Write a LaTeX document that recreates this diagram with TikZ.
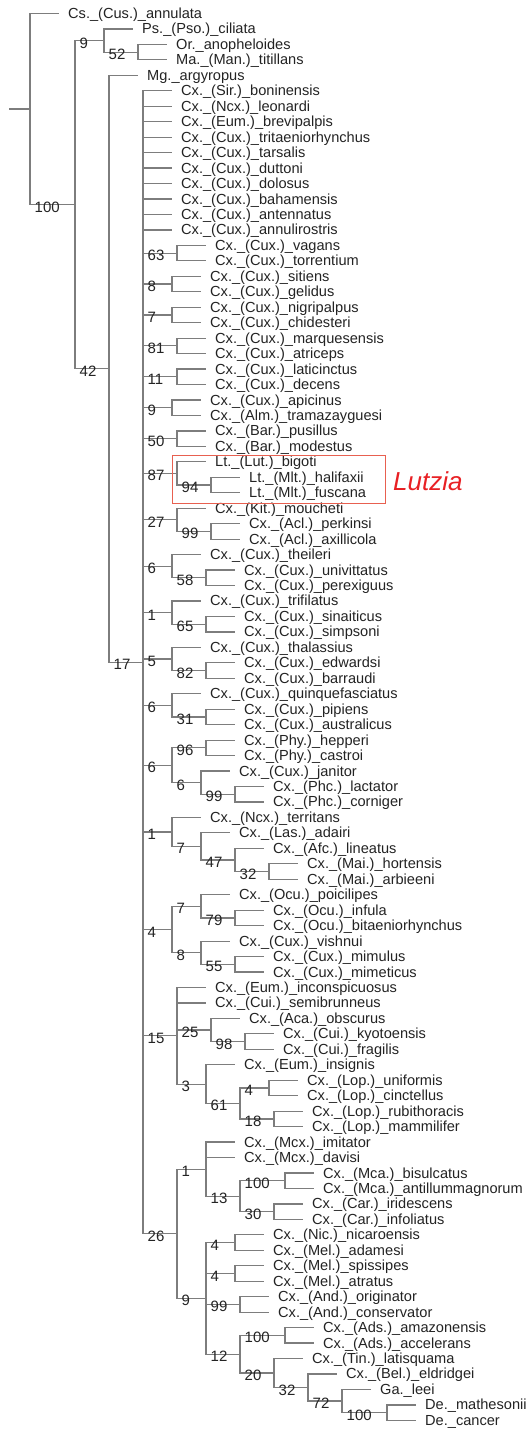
\documentclass[tikz,border=0pt]{standalone}
\usepackage{fontspec}
\setmainfont{Liberation Sans}
\definecolor{linegray}{RGB}{125,125,125}
\definecolor{textdark}{RGB}{35,35,35}
\definecolor{lutzbox}{RGB}{232,96,80}
\definecolor{lutzred}{RGB}{232,32,36}
\newcommand\Y[1]{15.46*(#1)-1.96}
\newcommand\tleaf[4]{\node[leaf] (#1) at (#2,{\Y{#3}}) {#4};}
\newcommand\tnode[3]{\coordinate (#1) at (#2,{\Y{#3}});}
\newcommand\ed[2]{\draw[edge] (#1) |- (#2);}
\newcommand\el[2]{\draw[edge] (#1) |- (#2.west);}
\newcommand\bl[3]{\node[bsl] (b#2) at (#1 |- #2) {#3};}
\begin{document}
\begin{tikzpicture}[x=1pt,y=-1pt,
  edge/.style={draw=linegray, line width=1.2pt},
  leaf/.style={anchor=west, inner xsep=9pt, inner ysep=0pt, text height=10pt, text depth=0pt, font=\fontsize{14.6}{15}\selectfont, text=textdark},
  bsl/.style={anchor=west, inner sep=0pt, text height=10pt, text depth=0pt, xshift=4.5pt, yshift=-2.5pt, font=\fontsize{15}{15}\selectfont, text=textdark}]
\useasboundingbox (0,0) rectangle (531,1434);
% ---------- internal nodes ----------
\tnode{R}{30}{7.18311}
\coordinate (r0) at (9,{\Y{7.18311}});
\tnode{n100}{75}{13.36621}
\tnode{n9}{104}{2.75}
\tnode{n52}{138}{3.5}
\tnode{n42}{109}{23.98242}
\tnode{n17}{143}{42.96484}
\tnode{n63}{177}{16.5}
\tnode{n8}{172}{18.5}
\tnode{n7}{172}{20.5}
\tnode{n81}{177}{22.5}
\tnode{n11}{177}{24.5}
\tnode{n9b}{172}{26.5}
\tnode{n50}{177}{28.5}
\tnode{n87}{177}{30.75}
\tnode{n94}{211}{31.5}
\tnode{n27}{177}{33.75}
\tnode{n99a}{211}{34.5}
\tnode{n6a}{172}{36.75}
\tnode{n58}{206}{37.5}
\tnode{n1a}{172}{39.75}
\tnode{n65}{206}{40.5}
\tnode{n5}{172}{42.75}
\tnode{n82}{206}{43.5}
\tnode{n6b}{172}{45.75}
\tnode{n31}{206}{46.5}
\tnode{n6c}{172}{49.625}
\tnode{n96}{206}{48.5}
\tnode{n6d}{201}{50.75}
\tnode{n99b}{235}{51.5}
\tnode{n1b}{172}{53.9375}
\tnode{n7b}{201}{54.875}
\tnode{n47}{235}{55.75}
\tnode{n32a}{269}{56.5}
\tnode{n4}{172}{60.25}
\tnode{n7c}{201}{58.75}
\tnode{n79}{235}{59.5}
\tnode{n8b}{201}{61.75}
\tnode{n55}{235}{62.5}
\tnode{n15}{177}{67.125}
\tnode{n25}{211}{66.75}
\tnode{n98a}{245}{67.5}
\tnode{n3}{206}{70.25}
\tnode{n61}{240}{71.5}
\tnode{n4b}{269}{70.5}
\tnode{n18}{274}{72.5}
\tnode{n26}{177}{79.9296875}
\tnode{n1c}{206}{75.75}
\tnode{n13}{240}{77.5}
\tnode{n100b}{285}{76.5}
\tnode{n30}{274}{78.5}
\tnode{n9c}{206}{84.109375}
\tnode{n4c}{235}{80.5}
\tnode{n4d}{235}{82.5}
\tnode{n99c}{240}{84.5}
\tnode{n12}{240}{87.71875}
\tnode{n100c}{285}{86.5}
\tnode{n20}{274}{88.9375}
\tnode{n32b}{308}{89.875}
\tnode{n72}{342}{90.75}
\tnode{n100d}{387}{91.5}
% ---------- leaves ----------
\tleaf{l1}{59}{1}{Cs.\_(Cus.)\_annulata}
\tleaf{l2}{133}{2}{Ps.\_(Pso.)\_ciliata}
\tleaf{l3}{167}{3}{Or.\_anopheloides}
\tleaf{l4}{167}{4}{Ma.\_(Man.)\_titillans}
\tleaf{l5}{138}{5}{Mg.\_argyropus}
\tleaf{l6}{172}{6}{Cx.\_(Sir.)\_boninensis}
\tleaf{l7}{172}{7}{Cx.\_(Ncx.)\_leonardi}
\tleaf{l8}{172}{8}{Cx.\_(Eum.)\_brevipalpis}
\tleaf{l9}{172}{9}{Cx.\_(Cux.)\_tritaeniorhynchus}
\tleaf{l10}{172}{10}{Cx.\_(Cux.)\_tarsalis}
\tleaf{l11}{172}{11}{Cx.\_(Cux.)\_duttoni}
\tleaf{l12}{172}{12}{Cx.\_(Cux.)\_dolosus}
\tleaf{l13}{172}{13}{Cx.\_(Cux.)\_bahamensis}
\tleaf{l14}{172}{14}{Cx.\_(Cux.)\_antennatus}
\tleaf{l15}{172}{15}{Cx.\_(Cux.)\_annulirostris}
\tleaf{l16}{206}{16}{Cx.\_(Cux.)\_vagans}
\tleaf{l17}{206}{17}{Cx.\_(Cux.)\_torrentium}
\tleaf{l18}{201}{18}{Cx.\_(Cux.)\_sitiens}
\tleaf{l19}{201}{19}{Cx.\_(Cux.)\_gelidus}
\tleaf{l20}{201}{20}{Cx.\_(Cux.)\_nigripalpus}
\tleaf{l21}{201}{21}{Cx.\_(Cux.)\_chidesteri}
\tleaf{l22}{206}{22}{Cx.\_(Cux.)\_marquesensis}
\tleaf{l23}{206}{23}{Cx.\_(Cux.)\_atriceps}
\tleaf{l24}{206}{24}{Cx.\_(Cux.)\_laticinctus}
\tleaf{l25}{206}{25}{Cx.\_(Cux.)\_decens}
\tleaf{l26}{201}{26}{Cx.\_(Cux.)\_apicinus}
\tleaf{l27}{201}{27}{Cx.\_(Alm.)\_tramazayguesi}
\tleaf{l28}{206}{28}{Cx.\_(Bar.)\_pusillus}
\tleaf{l29}{206}{29}{Cx.\_(Bar.)\_modestus}
\tleaf{l30}{206}{30}{Lt.\_(Lut.)\_bigoti}
\tleaf{l31}{240}{31}{Lt.\_(Mlt.)\_halifaxii}
\tleaf{l32}{240}{32}{Lt.\_(Mlt.)\_fuscana}
\tleaf{l33}{206}{33}{Cx.\_(Kit.)\_moucheti}
\tleaf{l34}{240}{34}{Cx.\_(Acl.)\_perkinsi}
\tleaf{l35}{240}{35}{Cx.\_(Acl.)\_axillicola}
\tleaf{l36}{201}{36}{Cx.\_(Cux.)\_theileri}
\tleaf{l37}{235}{37}{Cx.\_(Cux.)\_univittatus}
\tleaf{l38}{235}{38}{Cx.\_(Cux.)\_perexiguus}
\tleaf{l39}{201}{39}{Cx.\_(Cux.)\_trifilatus}
\tleaf{l40}{235}{40}{Cx.\_(Cux.)\_sinaiticus}
\tleaf{l41}{235}{41}{Cx.\_(Cux.)\_simpsoni}
\tleaf{l42}{201}{42}{Cx.\_(Cux.)\_thalassius}
\tleaf{l43}{235}{43}{Cx.\_(Cux.)\_edwardsi}
\tleaf{l44}{235}{44}{Cx.\_(Cux.)\_barraudi}
\tleaf{l45}{201}{45}{Cx.\_(Cux.)\_quinquefasciatus}
\tleaf{l46}{235}{46}{Cx.\_(Cux.)\_pipiens}
\tleaf{l47}{235}{47}{Cx.\_(Cux.)\_australicus}
\tleaf{l48}{235}{48}{Cx.\_(Phy.)\_hepperi}
\tleaf{l49}{235}{49}{Cx.\_(Phy.)\_castroi}
\tleaf{l50}{230}{50}{Cx.\_(Cux.)\_janitor}
\tleaf{l51}{264}{51}{Cx.\_(Phc.)\_lactator}
\tleaf{l52}{264}{52}{Cx.\_(Phc.)\_corniger}
\tleaf{l53}{201}{53}{Cx.\_(Ncx.)\_territans}
\tleaf{l54}{230}{54}{Cx.\_(Las.)\_adairi}
\tleaf{l55}{264}{55}{Cx.\_(Afc.)\_lineatus}
\tleaf{l56}{298}{56}{Cx.\_(Mai.)\_hortensis}
\tleaf{l57}{298}{57}{Cx.\_(Mai.)\_arbieeni}
\tleaf{l58}{230}{58}{Cx.\_(Ocu.)\_poicilipes}
\tleaf{l59}{264}{59}{Cx.\_(Ocu.)\_infula}
\tleaf{l60}{264}{60}{Cx.\_(Ocu.)\_bitaeniorhynchus}
\tleaf{l61}{230}{61}{Cx.\_(Cux.)\_vishnui}
\tleaf{l62}{264}{62}{Cx.\_(Cux.)\_mimulus}
\tleaf{l63}{264}{63}{Cx.\_(Cux.)\_mimeticus}
\tleaf{l64}{206}{64}{Cx.\_(Eum.)\_inconspicuosus}
\tleaf{l65}{206}{65}{Cx.\_(Cui.)\_semibrunneus}
\tleaf{l66}{240}{66}{Cx.\_(Aca.)\_obscurus}
\tleaf{l67}{274}{67}{Cx.\_(Cui.)\_kyotoensis}
\tleaf{l68}{274}{68}{Cx.\_(Cui.)\_fragilis}
\tleaf{l69}{235}{69}{Cx.\_(Eum.)\_insignis}
\tleaf{l70}{298}{70}{Cx.\_(Lop.)\_uniformis}
\tleaf{l71}{298}{71}{Cx.\_(Lop.)\_cinctellus}
\tleaf{l72}{303}{72}{Cx.\_(Lop.)\_rubithoracis}
\tleaf{l73}{303}{73}{Cx.\_(Lop.)\_mammilifer}
\tleaf{l74}{235}{74}{Cx.\_(Mcx.)\_imitator}
\tleaf{l75}{235}{75}{Cx.\_(Mcx.)\_davisi}
\tleaf{l76}{314}{76}{Cx.\_(Mca.)\_bisulcatus}
\tleaf{l77}{314}{77}{Cx.\_(Mca.)\_antillummagnorum}
\tleaf{l78}{303}{78}{Cx.\_(Car.)\_iridescens}
\tleaf{l79}{303}{79}{Cx.\_(Car.)\_infoliatus}
\tleaf{l80}{264}{80}{Cx.\_(Nic.)\_nicaroensis}
\tleaf{l81}{264}{81}{Cx.\_(Mel.)\_adamesi}
\tleaf{l82}{264}{82}{Cx.\_(Mel.)\_spissipes}
\tleaf{l83}{264}{83}{Cx.\_(Mel.)\_atratus}
\tleaf{l84}{269}{84}{Cx.\_(And.)\_originator}
\tleaf{l85}{269}{85}{Cx.\_(And.)\_conservator}
\tleaf{l86}{314}{86}{Cx.\_(Ads.)\_amazonensis}
\tleaf{l87}{314}{87}{Cx.\_(Ads.)\_accelerans}
\tleaf{l88}{303}{88}{Cx.\_(Tin.)\_latisquama}
\tleaf{l89}{337}{89}{Cx.\_(Bel.)\_eldridgei}
\tleaf{l90}{371}{90}{Ga.\_leei}
\tleaf{l91}{416}{91}{De.\_mathesonii}
\tleaf{l92}{416}{92}{De.\_cancer}
% ---------- edges ----------
\draw[edge] (r0) -- (R);
\el{R}{l1} \ed{R}{n100}
\ed{n100}{n9} \ed{n100}{n42}
\el{n9}{l2} \ed{n9}{n52}
\el{n52}{l3} \el{n52}{l4}
\el{n42}{l5} \ed{n42}{n17}
\foreach \i in {6,...,15} {\el{n17}{l\i}}
\foreach \c in {n63,n8,n7,n81,n11,n9b,n50,n87,n27,n6a,n1a,n5,n6b,n6c,n1b,n4,n15,n26} {\ed{n17}{\c}}
\el{n63}{l16} \el{n63}{l17}
\el{n8}{l18} \el{n8}{l19}
\el{n7}{l20} \el{n7}{l21}
\el{n81}{l22} \el{n81}{l23}
\el{n11}{l24} \el{n11}{l25}
\el{n9b}{l26} \el{n9b}{l27}
\el{n50}{l28} \el{n50}{l29}
\el{n87}{l30} \ed{n87}{n94}
\el{n94}{l31} \el{n94}{l32}
\el{n27}{l33} \ed{n27}{n99a}
\el{n99a}{l34} \el{n99a}{l35}
\el{n6a}{l36} \ed{n6a}{n58}
\el{n58}{l37} \el{n58}{l38}
\el{n1a}{l39} \ed{n1a}{n65}
\el{n65}{l40} \el{n65}{l41}
\el{n5}{l42} \ed{n5}{n82}
\el{n82}{l43} \el{n82}{l44}
\el{n6b}{l45} \ed{n6b}{n31}
\el{n31}{l46} \el{n31}{l47}
\ed{n6c}{n96} \ed{n6c}{n6d}
\el{n96}{l48} \el{n96}{l49}
\el{n6d}{l50} \ed{n6d}{n99b}
\el{n99b}{l51} \el{n99b}{l52}
\el{n1b}{l53} \ed{n1b}{n7b}
\el{n7b}{l54} \ed{n7b}{n47}
\el{n47}{l55} \ed{n47}{n32a}
\el{n32a}{l56} \el{n32a}{l57}
\ed{n4}{n7c} \ed{n4}{n8b}
\el{n7c}{l58} \ed{n7c}{n79}
\el{n79}{l59} \el{n79}{l60}
\el{n8b}{l61} \ed{n8b}{n55}
\el{n55}{l62} \el{n55}{l63}
\el{n15}{l64} \el{n15}{l65} \ed{n15}{n25} \ed{n15}{n3}
\el{n25}{l66} \ed{n25}{n98a}
\el{n98a}{l67} \el{n98a}{l68}
\el{n3}{l69} \ed{n3}{n61}
\ed{n61}{n4b} \ed{n61}{n18}
\el{n4b}{l70} \el{n4b}{l71}
\el{n18}{l72} \el{n18}{l73}
\ed{n26}{n1c} \ed{n26}{n9c}
\el{n1c}{l74} \el{n1c}{l75} \ed{n1c}{n13}
\ed{n13}{n100b} \ed{n13}{n30}
\el{n100b}{l76} \el{n100b}{l77}
\el{n30}{l78} \el{n30}{l79}
\ed{n9c}{n4c} \ed{n9c}{n4d} \ed{n9c}{n99c} \ed{n9c}{n12}
\el{n4c}{l80} \el{n4c}{l81}
\el{n4d}{l82} \el{n4d}{l83}
\el{n99c}{l84} \el{n99c}{l85}
\ed{n12}{n100c} \ed{n12}{n20}
\el{n100c}{l86} \el{n100c}{l87}
\el{n20}{l88} \ed{n20}{n32b}
\el{n32b}{l89} \ed{n32b}{n72}
\el{n72}{l90} \ed{n72}{n100d}
\el{n100d}{l91} \el{n100d}{l92}
% ---------- support values ----------
\bl{R}{n100}{100}
\bl{n100}{n9}{9}
\bl{n9}{n52}{52}
\bl{n100}{n42}{42}
\bl{n42}{n17}{17}
\bl{n17}{n63}{63}
\bl{n17}{n8}{8}
\bl{n17}{n7}{7}
\bl{n17}{n81}{81}
\bl{n17}{n11}{11}
\bl{n17}{n9b}{9}
\bl{n17}{n50}{50}
\bl{n17}{n87}{87}
\bl{n87}{n94}{94}
\bl{n17}{n27}{27}
\bl{n27}{n99a}{99}
\bl{n17}{n6a}{6}
\bl{n6a}{n58}{58}
\bl{n17}{n1a}{1}
\bl{n1a}{n65}{65}
\bl{n17}{n5}{5}
\bl{n5}{n82}{82}
\bl{n17}{n6b}{6}
\bl{n6b}{n31}{31}
\bl{n17}{n6c}{6}
\bl{n6c}{n96}{96}
\bl{n6c}{n6d}{6}
\bl{n6d}{n99b}{99}
\bl{n17}{n1b}{1}
\bl{n1b}{n7b}{7}
\bl{n7b}{n47}{47}
\bl{n47}{n32a}{32}
\bl{n17}{n4}{4}
\bl{n4}{n7c}{7}
\bl{n7c}{n79}{79}
\bl{n4}{n8b}{8}
\bl{n8b}{n55}{55}
\bl{n17}{n15}{15}
\bl{n15}{n25}{25}
\bl{n25}{n98a}{98}
\bl{n15}{n3}{3}
\bl{n3}{n61}{61}
\bl{n61}{n4b}{4}
\bl{n61}{n18}{18}
\bl{n17}{n26}{26}
\bl{n26}{n1c}{1}
\bl{n1c}{n13}{13}
\bl{n13}{n100b}{100}
\bl{n13}{n30}{30}
\bl{n26}{n9c}{9}
\bl{n9c}{n4c}{4}
\bl{n9c}{n4d}{4}
\bl{n9c}{n99c}{99}
\bl{n9c}{n12}{12}
\bl{n12}{n100c}{100}
\bl{n12}{n20}{20}
\bl{n20}{n32b}{32}
\bl{n32b}{n72}{72}
\bl{n72}{n100d}{100}
% ---------- Lutzia ----------
\node[draw=lutzbox, line width=1.2pt, anchor=north west, inner sep=0pt, minimum width=213pt, minimum height=48pt] (lutzbox) at (172,455) {};
\node[anchor=base west, inner sep=0pt, text=lutzred, font=\fontsize{26}{26}\selectfont\itshape] (lutzia) at (393,490) {Lutzia};
\end{tikzpicture}
\end{document}
